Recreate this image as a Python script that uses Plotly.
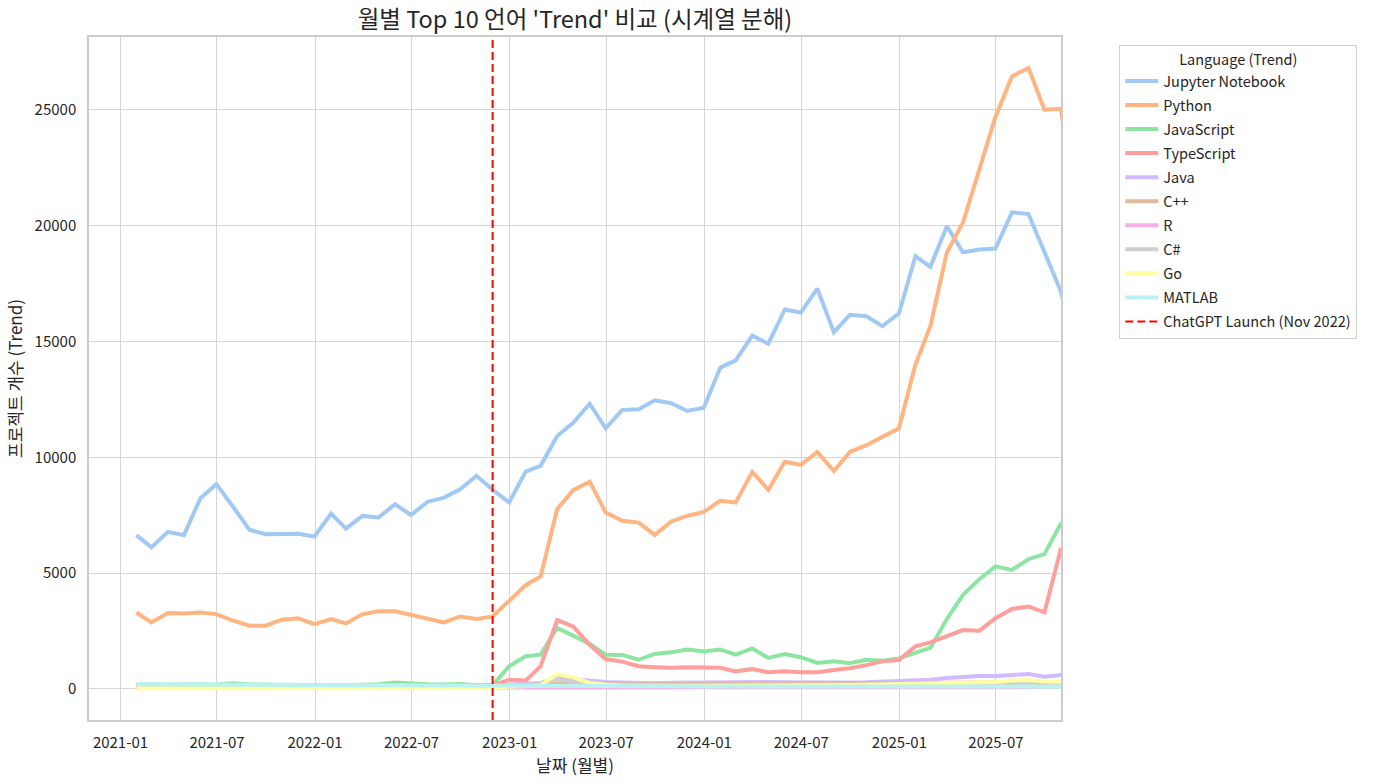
import pandas as pd
import plotly.graph_objects as go

# Month-end dates, Jan 2021 .. Nov 2025
dates = pd.date_range("2021-01-31", periods=59, freq="ME")

languages = ["Jupyter Notebook", "Python", "JavaScript", "TypeScript", "Java",
             "C++", "R", "C#", "Go", "MATLAB"]
colors = ["#a1c9f4", "#ffb482", "#8de5a1", "#ff9f9b", "#d0bbff",
          "#debb9b", "#fab0e4", "#cfcfcf", "#fffea3", "#b9f2f0"]

jupyter = [6640, 6110, 6780, 6640, 8230, 8840, 7870, 6870, 6680, 6700, 6700,
           6580, 7570, 6920, 7470, 7400, 7970, 7510, 8080, 8260, 8620, 9200, 8600,
           8050, 9380, 9630, 10920, 11490, 12310, 11250, 12040, 12070, 12460, 12330, 12000,
           12140, 13870, 14180, 15250, 14900, 16380, 16250, 17280, 15400, 16150, 16090, 15660,
           16200, 18680, 18220, 19970, 18850, 18970, 19010, 20570, 20500, 18890, 17150, 14000]
python = [3300, 2870, 3280, 3260, 3300, 3230, 2950, 2730, 2730, 2990, 3050,
          2800, 3020, 2830, 3230, 3350, 3350, 3190, 3060, 2870, 3130, 3020, 3130,
          3810, 4480, 4860, 7760, 8580, 8950, 7620, 7260, 7180, 6650, 7230, 7470,
          7640, 8120, 8050, 9370, 8590, 9810, 9670, 10230, 9410, 10230, 10520, 10900,
          11250, 14000, 15660, 18850, 20120, 22440, 24690, 26440, 26800, 25000, 25040, 20000]
javascript = [180, 190, 180, 170, 190, 180, 250, 190, 180, 180, 170,
              160, 170, 150, 180, 200, 280, 220, 200, 190, 210, 160, 160,
              980, 1410, 1480, 2630, 2300, 1940, 1480, 1470, 1260, 1510, 1580, 1700,
              1620, 1700, 1480, 1750, 1340, 1510, 1370, 1120, 1190, 1110, 1260, 1220,
              1320, 1550, 1770, 3020, 4050, 4740, 5290, 5140, 5600, 5820, 7150, 6000]
typescript = [80, 80, 90, 90, 90, 100, 100, 90, 90, 100, 100,
              100, 100, 100, 110, 110, 110, 110, 110, 110, 120, 120, 140,
              400, 360, 980, 2970, 2700, 1900, 1290, 1180, 980, 940, 910, 940,
              910, 910, 760, 860, 720, 760, 720, 720, 820, 890, 1030, 1190,
              1250, 1840, 2010, 2300, 2540, 2510, 3050, 3450, 3560, 3310, 6060, 5000]
java = [130, 130, 130, 130, 130, 130, 130, 130, 130, 130, 130,
        130, 130, 130, 130, 130, 140, 130, 130, 130, 130, 140, 150,
        180, 200, 260, 480, 420, 350, 300, 280, 260, 250, 270, 280,
        270, 280, 300, 320, 300, 290, 280, 260, 270, 280, 290, 310,
        320, 350, 400, 470, 530, 560, 560, 600, 640, 530, 600, 550]
cpp = [130, 130, 130, 130, 130, 130, 130, 130, 130, 130, 130,
       130, 130, 130, 130, 130, 130, 130, 130, 130, 130, 130, 140,
       170, 180, 200, 260, 240, 210, 200, 200, 190, 190, 200, 200,
       200, 210, 210, 220, 210, 210, 210, 200, 210, 220, 230, 240,
       250, 260, 270, 280, 290, 290, 290, 300, 300, 290, 300, 280]
r_lang = [60, 60, 60, 60, 60, 60, 60, 60, 60, 60, 60,
          60, 60, 60, 60, 60, 60, 60, 60, 60, 60, 60, 60,
          70, 70, 70, 80, 80, 70, 70, 70, 70, 70, 70, 70,
          70, 70, 70, 70, 70, 70, 70, 70, 70, 70, 70, 70,
          70, 70, 70, 80, 80, 80, 80, 90, 90, 80, 80, 80]
csharp = [100, 100, 100, 100, 100, 100, 100, 100, 100, 100, 100,
          100, 100, 100, 100, 100, 100, 100, 100, 100, 100, 100, 110,
          150, 170, 200, 420, 330, 220, 180, 170, 160, 160, 160, 160,
          160, 160, 170, 170, 160, 160, 160, 160, 160, 160, 170, 170,
          170, 180, 180, 190, 200, 200, 210, 260, 220, 200, 200, 190]
go_lang = [30, 30, 30, 30, 30, 30, 30, 30, 30, 30, 30,
           30, 30, 30, 30, 30, 30, 30, 30, 30, 30, 30, 40,
           100, 120, 150, 640, 500, 260, 180, 150, 130, 130, 130, 130,
           130, 140, 150, 160, 150, 150, 150, 150, 160, 170, 180, 190,
           200, 220, 240, 260, 280, 290, 300, 360, 390, 320, 320, 300]
matlab = [200, 200, 195, 190, 190, 185, 180, 175, 175, 170, 170,
          165, 165, 160, 160, 155, 155, 150, 150, 150, 145, 145, 140,
          140, 135, 135, 140, 135, 130, 125, 120, 120, 115, 115, 115,
          110, 110, 110, 110, 105, 105, 105, 105, 100, 100, 100, 100,
          100, 100, 100, 100, 100, 100, 100, 100, 100, 100, 100, 100]

series = [jupyter, python, javascript, typescript, java, cpp, r_lang, csharp, go_lang, matlab]

LAUNCH_DATE = "2022-11-30"
LAUNCH_LABEL = "ChatGPT Launch (Nov 2022)"
FONT = "Noto Sans CJK KR, Noto Sans, sans-serif"

fig = go.Figure()
for name, col, vals in zip(languages, colors, series):
    fig.add_trace(go.Scatter(x=dates, y=vals, mode="lines", name=name,
                             legendgroup=name,
                             line=dict(color=col, width=4)))

# legend entry for the launch line
fig.add_trace(go.Scatter(x=[None], y=[None], mode="lines", name=LAUNCH_LABEL,
                         legendgroup="launch",
                         line=dict(color="red", width=2, dash="8px,4px")))
fig.add_shape(type="line", x0=LAUNCH_DATE, x1=LAUNCH_DATE, xref="x",
              y0=0, y1=1, yref="paper",
              line=dict(color="red", width=2, dash="8px,4px"))

grid = "#d5d5d5"
fig.update_layout(
    width=1378, height=784,
    margin=dict(l=89, r=317, t=37, b=64),
    paper_bgcolor="white", plot_bgcolor="white",
    font=dict(family=FONT, size=15, color="#262626"),
    title=dict(text="월별 Top 10 언어 'Trend' 비교 (시계열 분해)",
               x=(89 + 1061) / 2 / 1378, xanchor="center",
               y=1 - 20 / 784, yanchor="middle",
               font=dict(size=23.5, color="#262626")),
    showlegend=True,
    legend=dict(x=1.06, y=0.988, xanchor="left", yanchor="top",
                bgcolor="white", bordercolor="#d0d0d0", borderwidth=1,
                font=dict(size=14.5, color="#262626"),
                title=dict(text="Language (Trend)", side="top center",
                           font=dict(size=14.5, color="#262626")),
                traceorder="grouped", tracegroupgap=2.2,
                itemwidth=33),
)
fig.update_xaxes(
    range=["2020-11-03", "2025-10-31"],
    tick0="2021-01-01", dtick="M6", tickformat="%Y-%m",
    showgrid=True, gridcolor=grid, gridwidth=1,
    showline=True, linecolor="#cccccc", linewidth=1.5, mirror=True,
    ticks="outside", ticklen=8, tickcolor="rgba(0,0,0,0)",
    zeroline=False,
    title=dict(text="날짜 (월별)", standoff=3, font=dict(size=17)),
)
fig.update_yaxes(
    range=[-1340, 28140],
    tickmode="linear", tick0=0, dtick=5000, tickformat="d",
    showgrid=True, gridcolor=grid, gridwidth=1,
    showline=True, linecolor="#cccccc", linewidth=1.5, mirror=True,
    ticks="outside", ticklen=8, tickcolor="rgba(0,0,0,0)",
    zeroline=False,
    title=dict(text="프로젝트 개수 (Trend)", standoff=8, font=dict(size=17)),
)

fig.write_html("out.html")
